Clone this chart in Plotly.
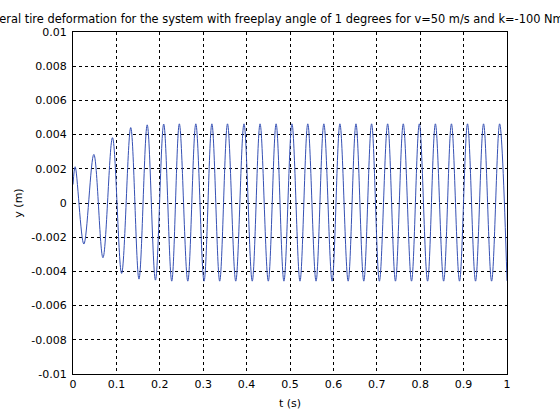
import plotly.graph_objects as go

# extrema of the tire deformation signal
t_s = [0.0, 0.005, 0.025, 0.048, 0.069, 0.091, 0.112, 0.133, 0.152, 0.171,
       0.190, 0.209, 0.2275, 0.245, 0.2645, 0.283, 0.302, 0.320, 0.338, 0.356,
       0.375, 0.394, 0.413, 0.431, 0.450, 0.468, 0.486, 0.5045, 0.523, 0.541,
       0.560, 0.578, 0.597, 0.615, 0.634, 0.652, 0.670, 0.688, 0.706, 0.725,
       0.743, 0.761, 0.780, 0.798, 0.817, 0.835, 0.854, 0.872, 0.8906, 0.909,
       0.9275, 0.946, 0.9645, 0.983, 1.0]
y_m = [0.00108, 0.00212, -0.0024, 0.00284, -0.0032, 0.00382, -0.00412, 0.00441, -0.00445, 0.00457,
       -0.00451, 0.00462, -0.00457, 0.00463, -0.00457, 0.00463, -0.00457, 0.00463, -0.00457, 0.00463,
       -0.00457, 0.00463, -0.00457, 0.00463, -0.00457, 0.00463, -0.00457, 0.00463, -0.00457, 0.00463,
       -0.00457, 0.00463, -0.00457, 0.00463, -0.00457, 0.00463, -0.00457, 0.00463, -0.00457, 0.00463,
       -0.00457, 0.00463, -0.00457, 0.00463, -0.00457, 0.00463, -0.00457, 0.00463, -0.00457, 0.00463,
       -0.00457, 0.00463, -0.00457, 0.00463, -0.00455]

x_ticks = [0, 0.1, 0.2, 0.3, 0.4, 0.5, 0.6, 0.7, 0.8, 0.9, 1]
x_labels = ["0", "0.1", "0.2", "0.3", "0.4", "0.5", "0.6", "0.7", "0.8", "0.9", "1"]
y_ticks = [0.01, 0.008, 0.006, 0.004, 0.002, 0, -0.002, -0.004, -0.006, -0.008, -0.01]
y_labels = ["0.01", "0.008", "0.006", "0.004", "0.002", "0",
            "-0.002", "-0.004", "-0.006", "-0.008", "-0.01"]

title = ("Lateral tire deformation for the system with freeplay angle of 1 degrees "
         "for v=50 m/s and k=-100 Nm/rad")

fig = go.Figure(
    go.Scatter(
        x=t_s,
        y=y_m,
        mode="lines",
        line=dict(color="#3550b4", width=1, shape="spline", smoothing=1),
        showlegend=False,
    )
)

axis_style = dict(
    showline=True,
    mirror=True,
    linecolor="black",
    linewidth=1,
    showgrid=True,
    gridcolor="black",
    gridwidth=1,
    griddash="3px,3px",
    zeroline=False,
    ticks="",
    automargin=False,
    tickfont=dict(size=11, color="black"),
)

fig.update_xaxes(
    range=[0, 1],
    tickvals=x_ticks,
    ticktext=x_labels,
    title=dict(text="t (s)", font=dict(size=11, color="black"), standoff=9),
    **axis_style,
)
fig.update_yaxes(
    range=[-0.01, 0.01],
    tickvals=y_ticks,
    ticktext=y_labels,
    ticklabelstandoff=3,
    title=dict(text="y (m)", font=dict(size=11, color="black"), standoff=6),
    **axis_style,
)

fig.update_layout(
    width=560,
    height=420,
    margin=dict(l=73, r=53, t=32, b=46),
    paper_bgcolor="white",
    plot_bgcolor="white",
    font=dict(family="DejaVu Sans, sans-serif", size=11, color="black"),
    title=dict(
        text=title,
        x=0.507,
        xref="container",
        xanchor="center",
        y=1 - 19 / 420,
        yref="container",
        yanchor="middle",
        automargin=False,
        font=dict(size=11.4, color="black"),
    ),
)

# drop the page's default body margin so the figure sits at the window corner
fig.write_html(
    "out.html",
    config={"displayModeBar": False},
    post_script="document.body.style.margin = '0';",
)
